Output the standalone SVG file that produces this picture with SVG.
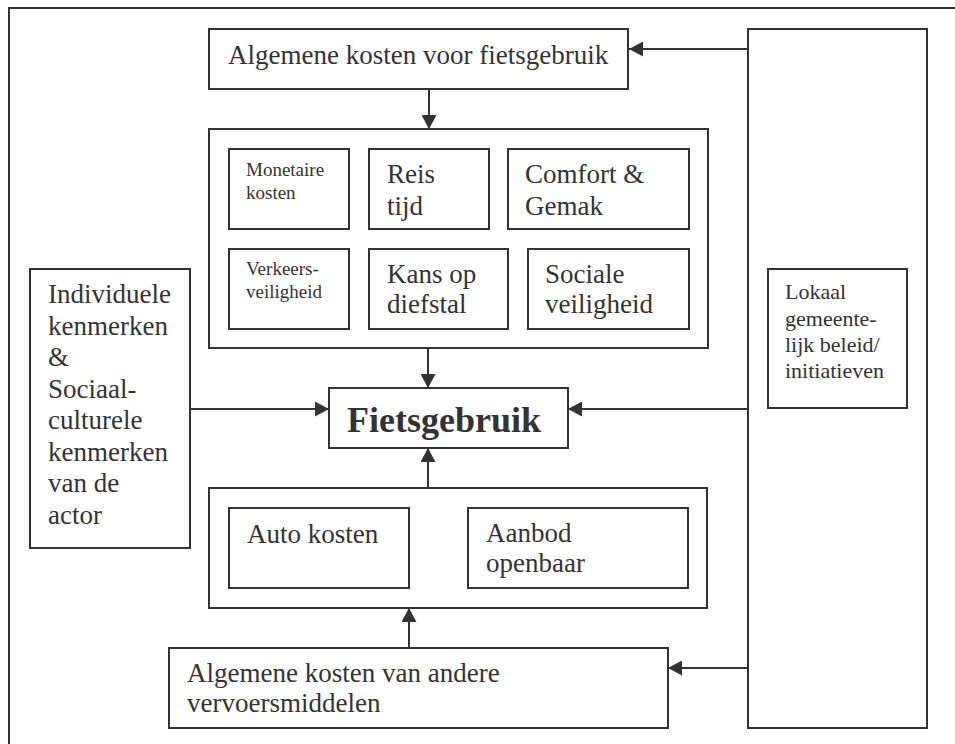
<svg xmlns="http://www.w3.org/2000/svg" width="955" height="744" viewBox="0 0 955 744">
  <style>
    .box { fill: #fff; stroke: #333; stroke-width: 2; }
    .frame { fill: none; stroke: #333; stroke-width: 2; }
    .t { font-family: "Liberation Serif", "Times New Roman", serif; fill: #333; }
    .big { font-size: 27px; }
    .small { font-size: 19px; }
    .mid { font-size: 22px; }
    .title { font-size: 36px; font-weight: bold; }
    .conn { fill: none; stroke: #333; stroke-width: 2; marker-end: url(#arrow); }
  </style>
  <defs>
    <marker id="arrow" markerUnits="userSpaceOnUse" markerWidth="15" markerHeight="15" refX="14" refY="7.5" orient="auto">
      <path d="M0,0 L14,7.5 L0,15 Z" fill="#333"/>
    </marker>
  </defs>
  <rect width="955" height="744" fill="#fff"/>

  <!-- outer frame (right and bottom edges run off the page) -->
  <rect class="frame" x="9" y="8" width="960" height="760"/>

  <g id="algemene-kosten-fiets">
    <rect class="box" x="209" y="29" width="419" height="60"/>
    <text class="t big" x="228" y="64">Algemene kosten voor fietsgebruik</text>
  </g>

  <g id="beleid">
    <rect class="box" x="748" y="29" width="179" height="699"/>
    <g id="lokaal-beleid">
      <rect class="box" x="768" y="269" width="139" height="139"/>
      <text class="t mid" x="785" y="299">Lokaal</text>
      <text class="t mid" x="785" y="326">gemeente-</text>
      <text class="t mid" x="785" y="352">lijk beleid/</text>
      <text class="t mid" x="785" y="378">initiatieven</text>
    </g>
  </g>

  <g id="fiets-factoren">
    <rect class="box" x="209" y="129" width="499" height="219"/>
    <g id="monetaire-kosten">
      <rect class="box" x="229" y="149" width="120" height="80"/>
      <text class="t small" x="246" y="176">Monetaire</text>
      <text class="t small" x="246" y="199">kosten</text>
    </g>
    <g id="reistijd">
      <rect class="box" x="369" y="149" width="120" height="80"/>
      <text class="t big" x="387" y="183">Reis</text>
      <text class="t big" x="387" y="215">tijd</text>
    </g>
    <g id="comfort">
      <rect class="box" x="508" y="149" width="181" height="80"/>
      <text class="t big" x="525" y="183">Comfort &amp;</text>
      <text class="t big" x="525" y="215">Gemak</text>
    </g>
    <g id="verkeersveiligheid">
      <rect class="box" x="229" y="249" width="120" height="80"/>
      <text class="t small" x="246" y="275">Verkeers-</text>
      <text class="t small" x="246" y="298">veiligheid</text>
    </g>
    <g id="diefstal">
      <rect class="box" x="369" y="249" width="139" height="80"/>
      <text class="t big" x="387" y="283">Kans op</text>
      <text class="t big" x="387" y="313">diefstal</text>
    </g>
    <g id="sociale-veiligheid">
      <rect class="box" x="528" y="249" width="161" height="80"/>
      <text class="t big" x="545" y="283">Sociale</text>
      <text class="t big" x="545" y="313">veiligheid</text>
    </g>
  </g>

  <g id="kenmerken">
    <rect class="box" x="30" y="269" width="160" height="279"/>
    <text class="t big" x="48" y="303">Individuele</text>
    <text class="t big" x="48" y="334.5">kenmerken</text>
    <text class="t big" x="48" y="366">&amp;</text>
    <text class="t big" x="48" y="397.5">Sociaal-</text>
    <text class="t big" x="48" y="429">culturele</text>
    <text class="t big" x="48" y="460.5">kenmerken</text>
    <text class="t big" x="48" y="492">van de</text>
    <text class="t big" x="48" y="523.5">actor</text>
  </g>

  <g id="fietsgebruik">
    <rect class="box" x="329" y="388" width="239" height="60"/>
    <text class="t title" x="347" y="432">Fietsgebruik</text>
  </g>

  <g id="alternatieven">
    <rect class="box" x="209" y="488" width="498" height="120"/>
    <g id="auto-kosten">
      <rect class="box" x="229" y="508" width="180" height="80"/>
      <text class="t big" x="247" y="543">Auto kosten</text>
    </g>
    <g id="aanbod-ov">
      <rect class="box" x="468" y="508" width="220" height="80"/>
      <text class="t big" x="486" y="542">Aanbod</text>
      <text class="t big" x="486" y="572">openbaar</text>
    </g>
  </g>

  <g id="algemene-kosten-andere">
    <rect class="box" x="169" y="648" width="499" height="80"/>
    <text class="t big" x="187" y="682">Algemene kosten van andere</text>
    <text class="t big" x="187" y="712">vervoersmiddelen</text>
  </g>

  <g id="connectors">
    <path class="conn" d="M429,89 V129"/>
    <path class="conn" d="M748,49 H629"/>
    <path class="conn" d="M428,348 V388"/>
    <path class="conn" d="M190,409 H329"/>
    <path class="conn" d="M748,409 H568"/>
    <path class="conn" d="M428,488 V448"/>
    <path class="conn" d="M409,648 V608"/>
    <path class="conn" d="M748,668 H668"/>
  </g>
</svg>
